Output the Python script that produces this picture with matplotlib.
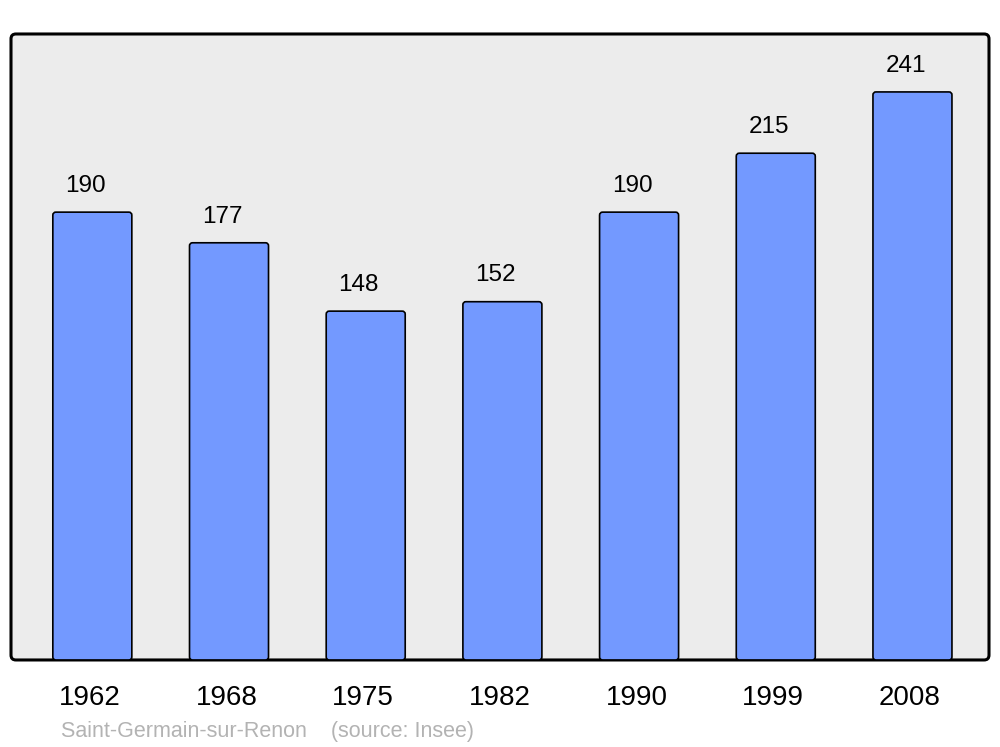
import matplotlib.pyplot as plt
from matplotlib.patches import FancyBboxPatch
from matplotlib.transforms import ScaledTranslation

years = ["1962", "1968", "1975", "1982", "1990", "1999", "2008"]
population = [190, 177, 148, 152, 190, 215, 241]
footer = "Saint-Germain-sur-Renon    (source: Insee)"

plt.rcParams['font.family'] = ['Liberation Sans', 'DejaVu Sans']

fig = plt.figure(figsize=(10, 7.47), dpi=100)
ax = fig.add_axes([0.011, 0.1165, 0.978, 0.838])
ax.patch.set_visible(False)
for s in ax.spines.values():
    s.set_visible(False)

# rounded grey frame
frame = FancyBboxPatch((0, 0), 1, 1, boxstyle="round,pad=0,rounding_size=0.005",
                       mutation_aspect=978 / 626, transform=ax.transAxes,
                       facecolor="#ececec", edgecolor="black", linewidth=2.2,
                       clip_on=False, zorder=0)
ax.add_patch(frame)

x = range(len(years))
bars = ax.bar(x, population, width=0.578, color="#7399ff", edgecolor="black",
              linewidth=1.2, zorder=2)

ax.set_xlim(-0.595, 6.56)
ax.set_ylim(0, max(population) * 1.102)

# swap plain bars for slightly rounded ones
for rect in bars:
    rect.set_visible(False)
    rb = FancyBboxPatch((rect.get_x(), rect.get_y()), rect.get_width(), rect.get_height(),
                        boxstyle="round,pad=0,rounding_size=0.022", mutation_aspect=58,
                        facecolor="#7399ff", edgecolor="black", linewidth=1.2, zorder=2)
    ax.add_patch(rb)

for i, v in enumerate(population):
    ax.annotate(str(v), (i, v), xytext=(-5, 11), textcoords="offset points",
                ha="center", va="bottom", fontsize=17.5)

ax.set_xticks(list(x))
ax.set_xticklabels(years, fontsize=20)
ax.tick_params(axis="x", length=0, pad=18)
ax.set_yticks([])
shift = ScaledTranslation(-2.5 / 100, 0, fig.dpi_scale_trans)
for lab in ax.get_xticklabels():
    lab.set_transform(lab.get_transform() + shift)

fig.text(0.061, 0.0134, footer, fontsize=15.5, color="#b3b3b3", ha="left", va="baseline")

plt.savefig("out.png", dpi=100)
